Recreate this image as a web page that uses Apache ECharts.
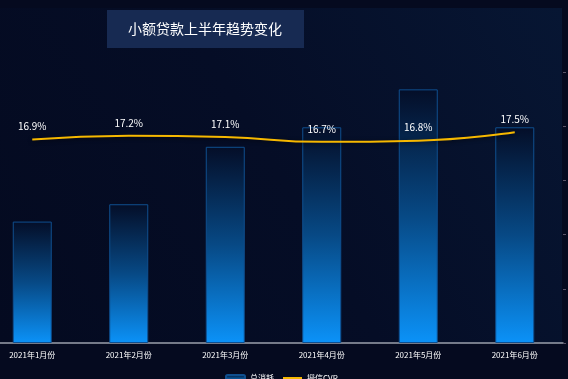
<!DOCTYPE html>
<html>
<head>
<meta charset="utf-8">
<script src="https://cdn.jsdelivr.net/npm/echarts@6/dist/echarts.min.js"></script>
<style>
html,body{margin:0;padding:0;background:#050a1f;overflow:hidden;width:568px;height:379px;}
#c{width:584px;height:379px;margin-left:-16px;}
</style>
</head>
<body>
<div id="c"></div>
<script>
var categories = ['2021年1月份','2021年2月份','2021年3月份','2021年4月份','2021年5月份','2021年6月份'];
var totalSpend = [112, 128, 181, 199, 234, 199];
var creditCVR = [16.9, 17.2, 17.1, 16.7, 16.8, 17.5];
var titleText = '小额贷款上半年趋势变化';
var legendNames = ['总消耗', '授信CVR'];

var OX = 16; // container offset
var chart = echarts.init(document.getElementById('c'), null, {renderer: 'canvas'});
var font = '"Noto Sans CJK SC", "Noto Sans", sans-serif';
chart.setOption({
  backgroundColor: '#050a1f',
  textStyle: {fontFamily: font},
  graphic: [
    {type: 'rect', z: -10, silent: true, shape: {x: OX, y: 8, width: 562, height: 335},
      style: {fill: new echarts.graphic.LinearGradient(1, 0, 0, 1, [
        {offset: 0, color: '#071633'}, {offset: 0.5, color: '#050d26'}, {offset: 1, color: '#040a20'}])}},
    {type: 'rect', silent: true, shape: {x: OX + 107, y: 10, width: 197, height: 38},
      style: {fill: '#172a52'}},
    {type: 'text', silent: true, x: OX + 205, y: 29,
      style: {text: titleText, fill: '#ffffff', font: '14px ' + font, textAlign: 'center', textVerticalAlign: 'middle'}}
  ],
  legend: {
    data: [legendNames[0], {name: legendNames[1], itemStyle: {opacity: 0}}],
    top: 369,
    left: OX + 220,
    itemWidth: 19,
    itemHeight: 6,
    itemGap: 8,
    textStyle: {color: '#ffffff', fontSize: 8}
  },
  grid: {left: 0, right: 5, top: 72, bottom: 36, containLabel: false},
  xAxis: {
    type: 'category',
    data: categories,
    axisLine: {show: true, lineStyle: {color: '#9aa0ac', width: 1.5}},
    axisTick: {show: false},
    axisLabel: {color: '#ffffff', fontSize: 8, margin: 8, interval: 0}
  },
  yAxis: [
    {type: 'value', min: 0, max: 250, interval: 50, show: false},
    {type: 'value', position: 'right', min: 0, max: 22.5, interval: 4.5,
      axisLine: {show: false},
      axisTick: {show: true, length: 3, lineStyle: {color: '#5a5468'}},
      axisLabel: {show: false},
      splitLine: {show: false}}
  ],
  series: [
    {
      name: legendNames[0],
      type: 'bar',
      yAxisIndex: 0,
      barWidth: 39,
      data: totalSpend,
      itemStyle: {
        color: new echarts.graphic.LinearGradient(0, 0, 0, 1, [
          {offset: 0, color: '#040e28'}, {offset: 0.5, color: '#074985'}, {offset: 1, color: '#0b92f8'}]),
        borderColor: '#0f4f8f',
        borderWidth: 1
      }
    },
    {
      name: legendNames[1],
      type: 'line',
      yAxisIndex: 1,
      smooth: true,
      showSymbol: true,
      symbol: 'circle',
      symbolSize: 0.1,
      data: creditCVR,
      lineStyle: {color: '#f6b800', width: 2, shadowColor: 'rgba(0,0,0,0.6)', shadowBlur: 4, shadowOffsetY: 1},
      itemStyle: {color: '#f6b800'},
      label: {show: true, position: 'top', distance: 8, color: '#ffffff', fontSize: 10,
        formatter: function (p) { return p.value + '%'; }}
    }
  ]
});
</script>
</body>
</html>
